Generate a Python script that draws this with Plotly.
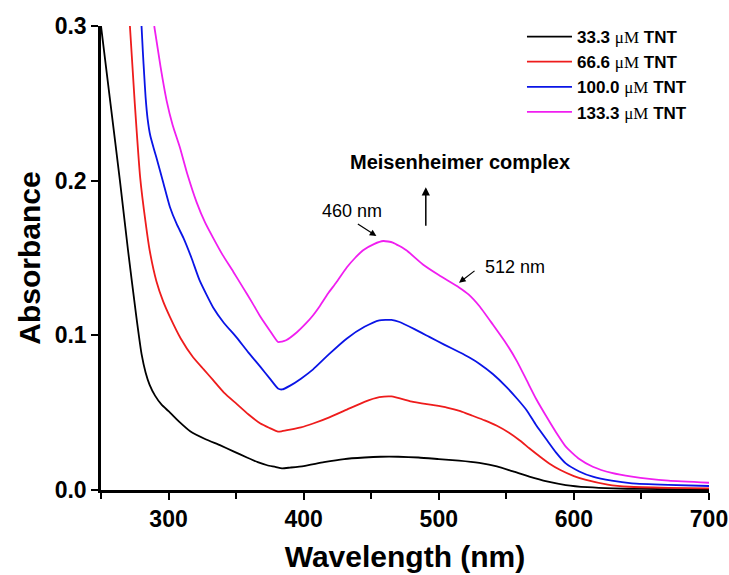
import plotly.graph_objects as go

# UV-Vis absorbance spectra of the TNT-amine Meisenheimer complex
wl_33 = [250, 257, 264, 270, 276, 280, 283, 286, 290, 295, 300, 308, 316, 327, 338, 348, 358, 366,
         373, 379, 384, 390, 400, 415, 430, 445, 457, 470, 485, 500, 515, 530, 543, 555, 567,
         580, 594, 610, 629, 650, 675, 700]
abs_33 = [0.300, 0.250, 0.200, 0.155, 0.113, 0.088, 0.076, 0.068, 0.061, 0.055, 0.051, 0.044,
          0.038, 0.033, 0.029, 0.025, 0.021, 0.018, 0.016, 0.015, 0.014, 0.0145, 0.0155, 0.018,
          0.020, 0.021, 0.0215, 0.0215, 0.021, 0.020, 0.019, 0.0175, 0.0153, 0.012, 0.0086,
          0.0055, 0.0032, 0.0018, 0.001, 0.0007, 0.0006, 0.0005]

wl_66 = [271.4, 275, 279, 283, 286, 291, 296, 301, 309, 318, 326, 333, 341, 350, 359, 368, 375,
         381, 384, 390, 398, 407, 419, 432, 445, 456, 465, 481, 495, 506, 516, 525, 534, 543,
         552, 560, 567, 575, 582, 590, 600, 609, 625, 641, 670, 700]
abs_66 = [0.300, 0.250, 0.202, 0.173, 0.155, 0.135, 0.122, 0.112, 0.098, 0.086, 0.078, 0.071,
          0.063, 0.056, 0.049, 0.043, 0.040, 0.0377, 0.038, 0.039, 0.0405, 0.043, 0.047, 0.052,
          0.057, 0.060, 0.0605, 0.057, 0.055, 0.0533, 0.051, 0.048, 0.045, 0.0415, 0.037, 0.032,
          0.027, 0.0215, 0.017, 0.0129, 0.009, 0.0065, 0.0035, 0.0021, 0.0014, 0.001]

wl_100 = [280, 281, 282, 283, 284.5, 286.5, 289, 291, 296, 301, 306, 311, 317, 323, 333, 341, 350,
          359, 368, 375, 381, 384, 390, 398, 407, 419, 432, 445, 456, 465, 471, 482, 493, 504,
          515, 523, 530, 540, 550, 558, 565, 572, 580, 587, 594, 604, 614, 628, 643, 670, 700]
abs_100 = [0.300, 0.283, 0.268, 0.254, 0.240, 0.229, 0.221, 0.215, 0.199, 0.183, 0.172, 0.163,
           0.150, 0.1355, 0.118, 0.108, 0.099, 0.089, 0.0796, 0.072, 0.0656, 0.065, 0.0675,
           0.072, 0.078, 0.088, 0.098, 0.1055, 0.1097, 0.110, 0.1086, 0.104, 0.099, 0.094,
           0.0892, 0.0855, 0.0817, 0.075, 0.0667, 0.059, 0.0516, 0.042, 0.0323, 0.024, 0.0172,
           0.012, 0.0086, 0.006, 0.0043, 0.0033, 0.0026]

wl_133 = [289.4, 294, 298.6, 303, 308.4, 314, 320.8, 327, 333, 340, 348, 355, 362, 368, 375, 381,
          384, 387, 395, 402, 407, 412, 418, 424, 432, 438, 444, 452, 459, 466, 476, 488, 500,
          515, 522, 530, 540, 550, 558, 565, 572, 580, 587, 594, 604, 614, 628, 643, 670, 700]
abs_133 = [0.300, 0.274, 0.2516, 0.236, 0.2215, 0.204, 0.186, 0.173, 0.163, 0.152, 0.141,
           0.131, 0.121, 0.112, 0.103, 0.0957, 0.096, 0.0968, 0.102, 0.108, 0.113, 0.119,
           0.127, 0.134, 0.144, 0.150, 0.155, 0.159, 0.161, 0.160, 0.155, 0.146, 0.139, 0.131,
           0.1265, 0.119, 0.107, 0.0946, 0.083, 0.071, 0.059, 0.047, 0.037, 0.028, 0.020, 0.015,
           0.011, 0.0086, 0.006, 0.0047]

concentrations = ["33.3", "66.6", "100.0", "133.3"]
colors = ["#000000", "#ee1c1c", "#0a14e6", "#f01ef0"]
series = [(wl_33, abs_33), (wl_66, abs_66), (wl_100, abs_100), (wl_133, abs_133)]

SANS = "Liberation Sans, Arial, sans-serif"
SERIF = "Liberation Serif, Times New Roman, serif"

fig = go.Figure()
for conc, color, (wl, ab) in zip(concentrations, colors, series):
    fig.add_trace(go.Scatter(
        x=wl, y=ab, mode="lines",
        line=dict(color=color, width=1.8, shape="spline", smoothing=0.5),
        name=f"<b>{conc} </b><span style='font-family:{SERIF}'>μM</span><b> TNT</b>",
    ))

axis_common = dict(
    showline=True, linecolor="black", linewidth=2.5, mirror=False,
    showgrid=False, zeroline=False, automargin=False,
    ticks="outside", ticklen=7, tickwidth=2, tickcolor="black",
    tickfont=dict(family=SANS, size=23, color="black", weight="bold"),
)

fig.update_xaxes(
    range=[250, 700], tick0=300, dtick=100,
    minor=dict(ticks="outside", dtick=50, ticklen=6, tickwidth=2, tickcolor="black"),
    title=dict(text="<b>Wavelength (nm)</b>", font=dict(family=SANS, size=30, color="black"),
               standoff=15),
    **axis_common,
)
fig.update_yaxes(
    range=[0, 0.3], tick0=0, dtick=0.1, tickformat=".1f",
    title=dict(text="<b>Absorbance</b>", font=dict(family=SANS, size=30, color="black"),
               standoff=6),
    **axis_common,
)

ann_font = dict(family=SANS, size=18, color="black")
annotations = [
    # peak labels
    dict(x=435.5, y=0.1806, text="460 nm", showarrow=False, font=ann_font),
    dict(x=453.8, y=0.1642, text="", showarrow=True, ax=-20, ay=-13,
         arrowhead=2, arrowsize=1.1, arrowwidth=1.2, arrowcolor="black", standoff=0),
    dict(x=556.2, y=0.1444, text="512 nm", showarrow=False, font=ann_font),
    dict(x=515.0, y=0.134, text="", showarrow=True, ax=17, ay=-13,
         arrowhead=2, arrowsize=1.1, arrowwidth=1.2, arrowcolor="black", standoff=0),
    # growth direction of the complex band
    dict(x=515.5, y=0.2123, text="<b>Meisenheimer complex</b>", showarrow=False,
         font=dict(family=SANS, size=20, color="black")),
    dict(x=490.4, y=0.1957, text="", showarrow=True, ax=0, ay=40,
         arrowhead=2, arrowsize=1.1, arrowwidth=1.5, arrowcolor="black", standoff=0),
]

fig.update_layout(
    width=729, height=575,
    margin=dict(l=101, r=20, t=26, b=85),
    paper_bgcolor="white", plot_bgcolor="white",
    annotations=annotations,
    showlegend=True,
    legend=dict(
        x=0.6924, y=1.015, xanchor="left", yanchor="top",
        bgcolor="rgba(0,0,0,0)", borderwidth=0,
        font=dict(family=SANS, size=17, color="black"),
        tracegroupgap=0, itemwidth=45,
    ),
)

fig.write_html("out.html")
